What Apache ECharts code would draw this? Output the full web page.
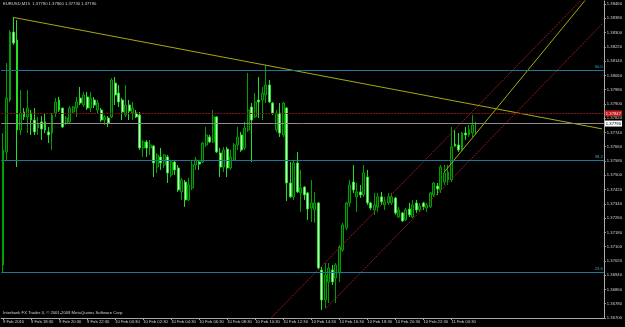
<!DOCTYPE html>
<html><head><meta charset="utf-8">
<script src="https://cdn.jsdelivr.net/npm/echarts@6/dist/echarts.min.js"></script>
<style>html,body{margin:0;padding:0;background:#000;}#c{width:625px;height:327px;}</style>
</head><body><div id="c"></div>
<script>
// ---------- data ----------
const symbolName = 'EURUSD,M15';
const copyrightText = 'Interbank FX Trader 4, \u00a9 2001-2009 MetaQuotes Software Corp.';
const firstTimeLabel = '9 Feb 2010';
const timeTickLabels = ['9 Feb 18:30','9 Feb 20:30','9 Feb 22:30','10 Feb 00:30','10 Feb 02:30','10 Feb 04:30',
  '10 Feb 06:30','10 Feb 08:30','10 Feb 10:30','10 Feb 12:30','10 Feb 14:30','10 Feb 16:30','10 Feb 18:30',
  '10 Feb 20:30','10 Feb 22:30','11 Feb 00:30'];
// 15-minute bars from 9 Feb 16:30 (chart has empty space to the right)
const categories = [];
for (let i = 0; i < 172; i++) {
  const t = 16 * 60 + 30 + i * 15;
  const day = 9 + Math.floor(t / 1440), m = t % 1440;
  categories.push(day + ' Feb ' + String(Math.floor(m / 60)).padStart(2, '0') + ':' + String(m % 60).padStart(2, '0'));
}
const opens = [1.36997,1.37631,1.37922,1.38303,1.38258,1.37754,1.37855,1.37827,1.37849,1.37810,
1.37765,1.37799,1.37799,1.37743,1.37737,1.37849,1.37922,1.37877,1.37793,1.37799,
1.37855,1.37877,1.37933,1.37894,1.37939,1.37877,1.37922,1.37866,1.37866,1.37810,
1.37821,1.37827,1.38017,1.37961,1.37922,1.37838,1.37894,1.37849,1.37849,1.37838,
1.37653,1.37687,1.37653,1.37664,1.37546,1.37603,1.37558,1.37603,1.37502,1.37574,
1.37541,1.37407,1.37462,1.37362,1.37429,1.37558,1.37574,1.37574,1.37670,1.37715,
1.37687,1.37827,1.37625,1.37546,1.37647,1.37541,1.37586,1.37670,1.37726,1.37653,
1.37754,1.37883,1.37827,1.37922,1.37922,1.37950,1.38006,1.37905,1.37754,1.37849,
1.37726,1.37877,1.37457,1.37379,1.37569,1.37401,1.37434,1.37401,1.37317,1.37306,
1.37345,1.36969,1.36801,1.36902,1.36969,1.36924,1.36952,1.37081,1.37205,1.37345,
1.37462,1.37379,1.37407,1.37390,1.37490,1.37345,1.37306,1.37323,1.37379,1.37334,
1.37345,1.37345,1.37373,1.37266,1.37289,1.37250,1.37311,1.37266,1.37345,1.37306,
1.37345,1.37317,1.37323,1.37390,1.37440,1.37418,1.37462,1.37474,1.37474,1.37675,
1.37670,1.37642,1.37737,1.37726,1.37737,1.37790];
const closes = [1.37642,1.37933,1.38303,1.38241,1.37754,1.37849,1.37827,1.37877,1.37810,1.37743,
1.37793,1.37759,1.37754,1.37726,1.37838,1.37911,1.37866,1.37771,1.37821,1.37877,
1.37883,1.37911,1.37905,1.37950,1.37877,1.37933,1.37894,1.37905,1.37810,1.37827,
1.37793,1.38034,1.37950,1.37911,1.37855,1.37894,1.37860,1.37877,1.37827,1.37653,
1.37687,1.37653,1.37670,1.37569,1.37614,1.37569,1.37614,1.37513,1.37574,1.37530,
1.37418,1.37474,1.37362,1.37446,1.37558,1.37586,1.37563,1.37681,1.37726,1.37687,
1.37827,1.37631,1.37546,1.37642,1.37541,1.37603,1.37670,1.37715,1.37642,1.37765,
1.37866,1.37810,1.37911,1.37911,1.37961,1.38006,1.37911,1.37849,1.37849,1.37737,
1.37905,1.37457,1.37379,1.37569,1.37407,1.37429,1.37390,1.37311,1.37345,1.37345,
1.36980,1.36801,1.36941,1.36980,1.36902,1.36997,1.37098,1.37222,1.37345,1.37446,
1.37418,1.37407,1.37390,1.37513,1.37345,1.37317,1.37334,1.37379,1.37351,1.37351,
1.37379,1.37379,1.37289,1.37306,1.37244,1.37306,1.37278,1.37334,1.37306,1.37328,
1.37323,1.37334,1.37401,1.37457,1.37423,1.37546,1.37513,1.37518,1.37659,1.37664,
1.37642,1.37737,1.37726,1.37754,1.37782,1.37790];
const highs = [1.37737,1.38129,1.38314,1.38387,1.38370,1.37978,1.37877,1.37978,1.37866,1.37877,
1.37827,1.37832,1.37849,1.37771,1.37849,1.37933,1.37939,1.37877,1.37832,1.37888,
1.37888,1.37939,1.37995,1.37967,1.37967,1.37967,1.37939,1.37922,1.37877,1.37838,
1.37832,1.38045,1.38051,1.38006,1.37933,1.38006,1.37922,1.37911,1.37866,1.37855,
1.37698,1.37698,1.37698,1.37670,1.37625,1.37653,1.37619,1.37614,1.37586,1.37586,
1.37558,1.37485,1.37474,1.37485,1.37586,1.37603,1.37586,1.37687,1.37771,1.37726,
1.37866,1.37832,1.37653,1.37659,1.37659,1.37642,1.37681,1.37771,1.37743,1.37799,
1.38073,1.37905,1.37961,1.38051,1.37995,1.38118,1.38034,1.37911,1.37866,1.37905,
1.37911,1.37883,1.37574,1.37586,1.37631,1.37530,1.37440,1.37407,1.37474,1.37407,
1.37351,1.36986,1.37008,1.37008,1.36997,1.37008,1.37109,1.37233,1.37351,1.37474,
1.37558,1.37457,1.37446,1.37558,1.37530,1.37351,1.37401,1.37401,1.37407,1.37379,
1.37401,1.37401,1.37379,1.37323,1.37294,1.37317,1.37345,1.37362,1.37362,1.37345,
1.37351,1.37345,1.37407,1.37462,1.37457,1.37558,1.37558,1.37558,1.37771,1.37754,
1.37737,1.37743,1.37771,1.37782,1.37838,1.37800];
const lows = [1.36958,1.37586,1.37911,1.38230,1.37546,1.37726,1.37810,1.37737,1.37726,1.37726,
1.37726,1.37698,1.37737,1.37681,1.37642,1.37827,1.37855,1.37765,1.37782,1.37787,
1.37849,1.37827,1.37894,1.37883,1.37866,1.37855,1.37877,1.37849,1.37799,1.37782,
1.37771,1.37821,1.37894,1.37883,1.37810,1.37827,1.37810,1.37810,1.37821,1.37642,
1.37603,1.37603,1.37614,1.37490,1.37513,1.37530,1.37541,1.37457,1.37490,1.37502,
1.37407,1.37362,1.37323,1.37356,1.37418,1.37530,1.37530,1.37569,1.37659,1.37681,
1.37681,1.37625,1.37490,1.37518,1.37490,1.37530,1.37580,1.37642,1.37631,1.37642,
1.37743,1.37574,1.37821,1.37821,1.37810,1.37905,1.37905,1.37838,1.37743,1.37715,
1.37715,1.37356,1.37373,1.37362,1.37401,1.37294,1.37362,1.37250,1.37239,1.37233,
1.36969,1.36745,1.36756,1.36784,1.36885,1.36784,1.36902,1.37070,1.37193,1.37323,
1.37401,1.37294,1.37373,1.37379,1.37334,1.37306,1.37278,1.37294,1.37334,1.37306,
1.37334,1.37334,1.37278,1.37261,1.37239,1.37244,1.37266,1.37261,1.37289,1.37294,
1.37306,1.37294,1.37317,1.37379,1.37390,1.37401,1.37446,1.37446,1.37462,1.37659,
1.37631,1.37636,1.37698,1.37715,1.37715,1.37730];
// price scale
const priceMin = 1.36700, priceStep = 0.0008, priceTop = 1.38477;
// horizontal objects
const fibLevels = [1.38090, 1.37584, 1.36956];
const fibLabels = ['50.0', '38.2', '23.6'];
const horizontalLinePrice = 1.37847;
// trend lines [time, price]
const trendLineMain = [['9 Feb 17:15', 1.38385], ['11 Feb 11:15', 1.37760]];
const trendLineSteep = [['11 Feb 00:00', 1.37519], ['11 Feb 10:15', 1.38501]];
const channelUpper = [['10 Feb 11:30', 1.36690], ['11 Feb 10:00', 1.38502]];
const channelLower = [['10 Feb 15:30', 1.36750], ['11 Feb 11:15', 1.38348]];

// ---------- chart ----------
const FONT = 'Liberation Sans, Arial, sans-serif';
const FS = 4.2;
const candleData = opens.map((o, i) => [o, closes[i], lows[i], highs[i]]);
const li = opens.length - 1;
const bid = closes[li];
const headerText = symbolName + '  ' + [opens[li], highs[li], lows[li], closes[li]].map(v => v.toFixed(5)).join(' ');
const isTick = (idx, val) => idx === 0 || timeTickLabels.indexOf(val) >= 0;

const chart = echarts.init(document.getElementById('c'), null, { renderer: 'canvas' });
const lineSeries = (data, color, type) => ({
  type: 'line', data: data, symbol: 'none', clip: true, silent: true, z: 4,
  lineStyle: { color: color, width: 1, type: type }
});
chart.setOption({
  backgroundColor: '#000000',
  animation: false,
  grid: { left: 0, right: 17, top: 1, bottom: 9 },
  xAxis: {
    type: 'category', data: categories, boundaryGap: true,
    axisLine: { show: true, lineStyle: { color: '#a8a8a8', width: 1 } },
    axisTick: { show: true, alignWithLabel: true, length: 2, interval: isTick, lineStyle: { color: '#a8a8a8' } },
    axisLabel: { interval: isTick, formatter: (v, i) => (i === 0 ? firstTimeLabel : v), align: 'left',
      color: '#d0d0d0', fontSize: FS, fontFamily: FONT, margin: 2 },
    splitLine: { show: false }
  },
  yAxis: {
    type: 'value', position: 'right', min: priceMin, max: priceTop, interval: priceStep,
    axisLine: { show: true, lineStyle: { color: '#a8a8a8', width: 1 } },
    axisTick: { show: true, length: 2, lineStyle: { color: '#a8a8a8' } },
    axisLabel: { formatter: v => v.toFixed(5), color: '#d0d0d0', fontSize: FS, fontFamily: FONT, margin: 3,
      showMaxLabel: false },
    splitLine: { show: false }
  },
  graphic: [
    { type: 'text', left: 3, top: 2, style: { text: headerText, fill: '#d0d0d0', fontSize: FS, fontFamily: FONT } },
    { type: 'text', left: 3, top: 311, style: { text: copyrightText, fill: '#d0d0d0', fontSize: FS, fontFamily: FONT } }
  ],
  series: [
    {
      type: 'candlestick', data: candleData, barWidth: 2.4, z: 3,
      itemStyle: { color: '#003000', borderColor: '#00a000', color0: '#d4ffd4', borderColor0: '#22e022',
        borderColorDoji: '#00b000', borderWidth: 1 },
      markLine: {
        symbol: ['none', 'none'], silent: true, animation: false, precision: 5,
        data: fibLevels.map((p, j) => ({
          yAxis: p, lineStyle: { color: '#1f7898', width: 1, type: 'solid' },
          label: { show: true, position: 'insideEndTop', formatter: fibLabels[j], color: '#3e9ccc',
            fontSize: FS, fontFamily: FONT, distance: 1 }
        })).concat([
          { yAxis: horizontalLinePrice, lineStyle: { color: '#801616', width: 1, type: [2, 1] },
            label: { show: true, position: 'end', formatter: horizontalLinePrice.toFixed(5), backgroundColor: '#c01c1c',
              color: '#ffd8d8', fontSize: FS, fontFamily: FONT, padding: [1, 1], distance: 1 } },
          { yAxis: bid, lineStyle: { color: '#8a8a8a', width: 1, type: 'solid' },
            label: { show: true, position: 'end', formatter: bid.toFixed(5), backgroundColor: '#ffffff',
              color: '#000000', fontSize: FS, fontFamily: FONT, padding: [1, 1], distance: 1 } }
        ])
      }
    },
    lineSeries(trendLineMain, '#a8a810', 'solid'),
    lineSeries(trendLineSteep, '#a8a810', 'solid'),
    lineSeries(channelUpper, '#941c1c', [2, 1]),
    lineSeries(channelLower, '#941c1c', [2, 1])
  ]
});
</script></body></html>
